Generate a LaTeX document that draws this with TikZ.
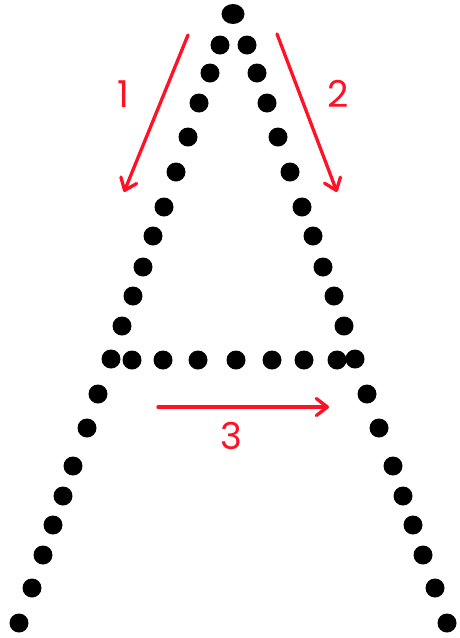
\documentclass[tikz,border=0pt]{standalone}
\usepackage{fontspec}
\newfontfamily\digitfont{Poppins}
\usetikzlibrary{arrows.meta}
\definecolor{InkBlack}{HTML}{000000}
\definecolor{PenRed}{HTML}{FF1226}
\tikzset{
  inkdot/.style={circle, fill=InkBlack, inner sep=0pt, minimum size=19pt},
  topdot/.style={ellipse, fill=InkBlack, inner sep=0pt, minimum width=23pt, minimum height=20pt},
  penarrow/.style={-{Straight Barb[length=11pt, width=17pt, round]}, line width=3.3pt, line cap=round, draw=PenRed},
  steplabel/.style={text=PenRed, inner sep=0pt, font=\digitfont\fontsize{37}{37}\selectfont}
}
\usetikzlibrary{shapes.geometric}

\begin{document}
\begin{tikzpicture}[x=1pt, y=-1pt]
\useasboundingbox (0,0) rectangle (460,638);
\node[topdot] (apex) at (233,14) {};
\foreach \x/\y [count=\i] in {220/45, 210/73, 199/103, 188/137, 176/172, 164/207, 153/236, 143/267, 133/296, 122/326, 111/359, 98/394, 87/428, 73/466, 63/496, 53/525, 43/555, 32/588, 19/623}
  \node[inkdot] (left\i) at (\x,\y) {};
\foreach \x/\y [count=\i] in {247/45, 257/73, 267/103, 278/137, 290/172, 302/207, 313/236, 323/267, 334/296, 344/326, 355/359, 367/394, 379/428, 393/466, 403/496, 413/525, 423/555, 435/588, 447/623}
  \node[inkdot] (right\i) at (\x,\y) {};
\foreach \x [count=\i] in {132, 163, 198, 236, 272, 304, 337}
  \node[inkdot] (bar\i) at (\x,360) {};

\coordinate (s1) at (188,35);
\coordinate (e1) at (124,192);
\coordinate (s2) at (277,34);
\coordinate (e2) at (337,192);
\coordinate (s3) at (158,407);
\coordinate (e3) at (329,407);
\draw[penarrow] (s1) -- (e1);
\draw[penarrow] (s2) -- (e2);
\draw[penarrow] (s3) -- (e3);
\node[steplabel] (lab1) at (123,94) {1};
\node[steplabel] (lab2) at (338,94) {2};
\node[steplabel] (lab3) at (231,436) {3};
\end{tikzpicture}
\end{document}
